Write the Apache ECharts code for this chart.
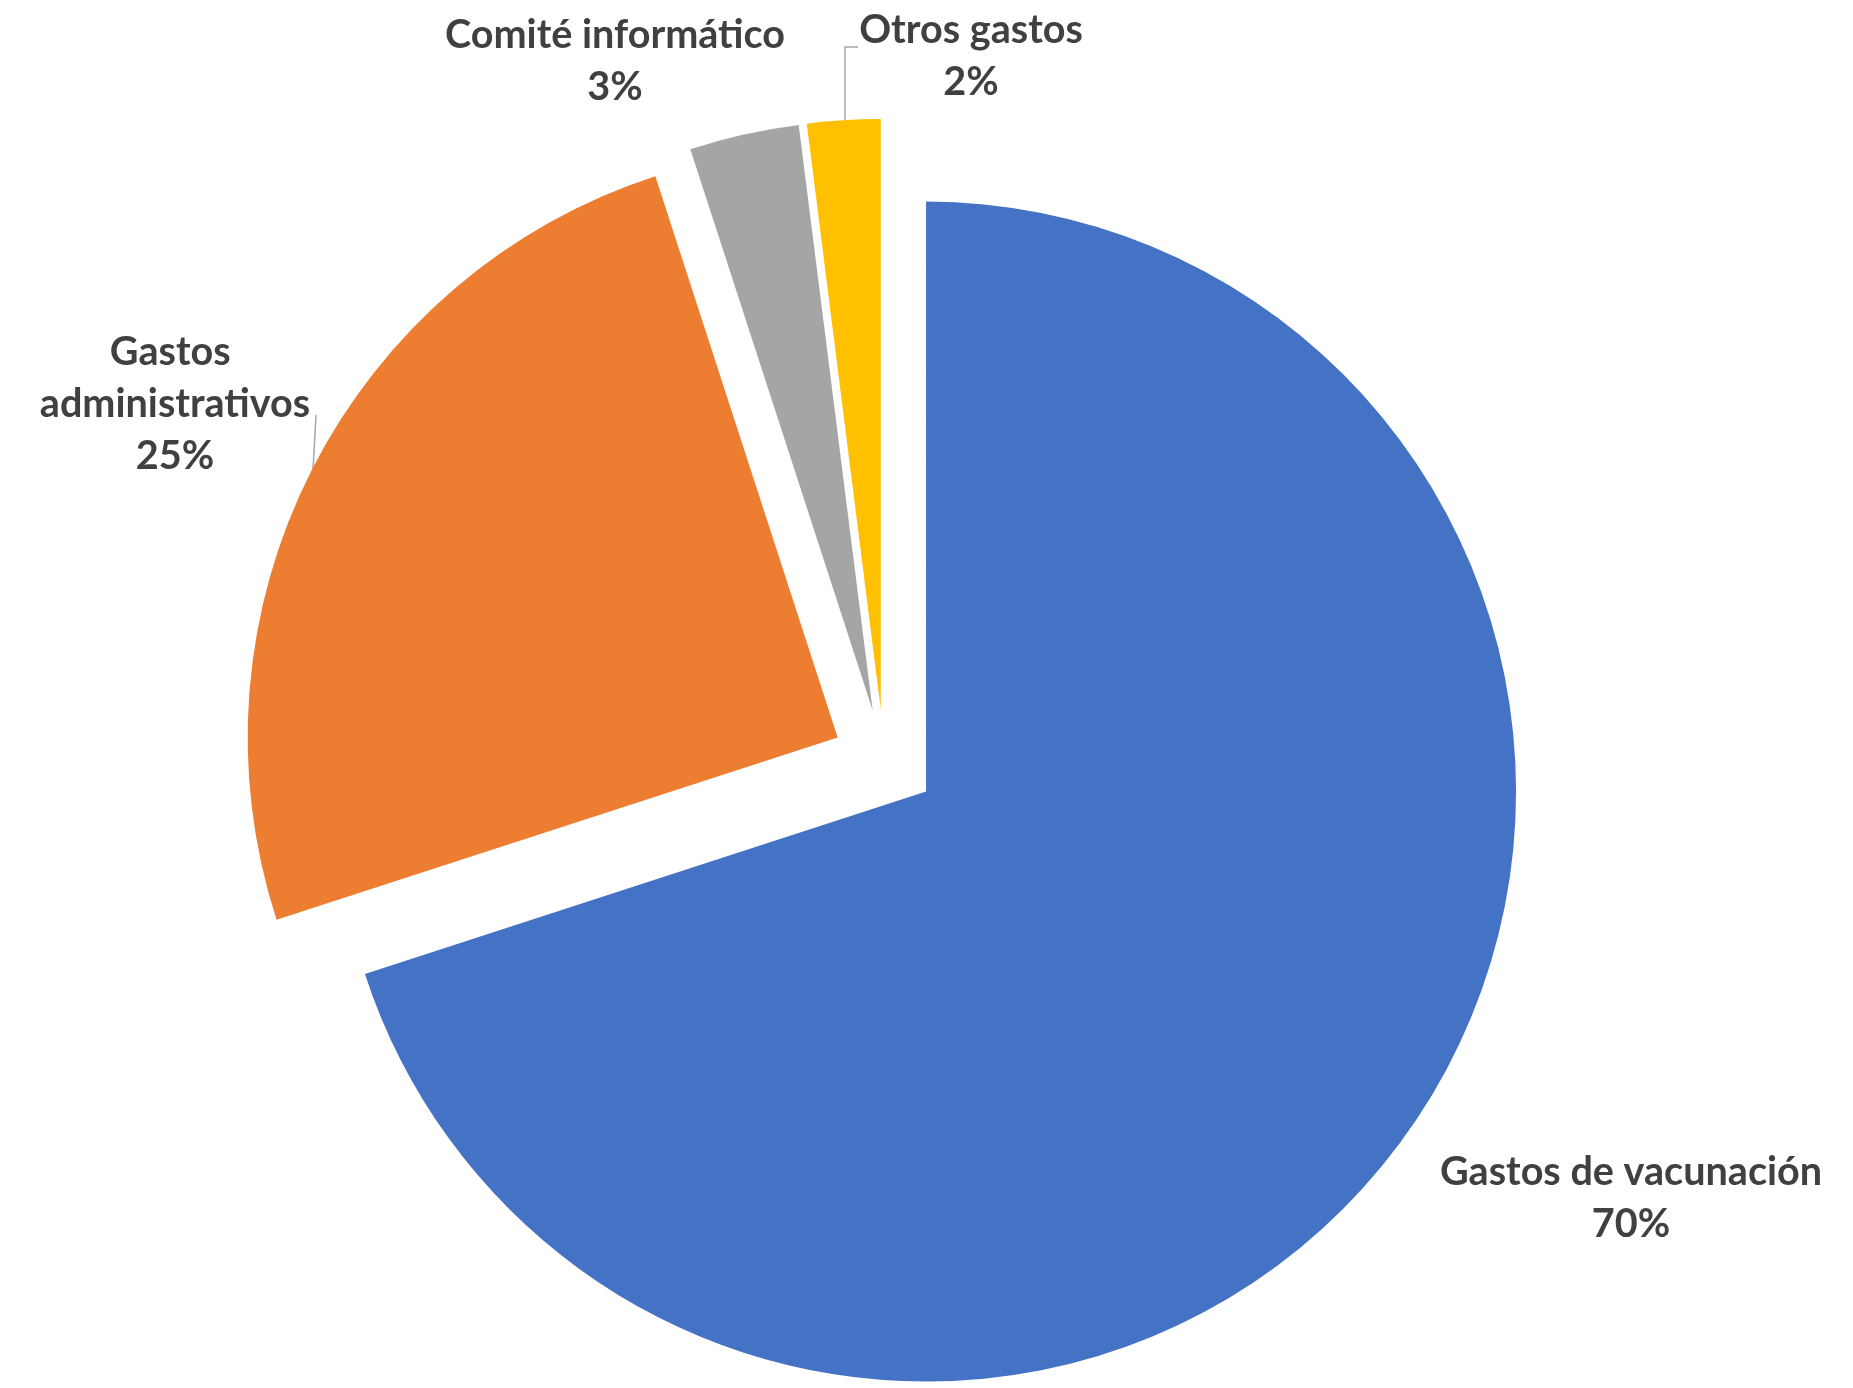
<!DOCTYPE html>
<html>
<head>
<meta charset="utf-8">
<script src="https://cdn.jsdelivr.net/npm/echarts@6/dist/echarts.min.js"></script>
<style>
html,body{margin:0;padding:0;background:#fff;}
#chart{width:1853px;height:1388px;}
</style>
</head>
<body>
<div id="chart"></div>
<script>
// ---- data ----
const categories = ['Gastos de vacunación', 'Gastos administrativos', 'Comité informático', 'Otros gastos'];
const shares = [70, 25, 3, 2];

// ---- styles / layout ----
const colors = ['#4472C4', '#ED7D31', '#A5A5A5', '#FFC000'];
const PIE = { cx: 884, cy: 761, r: 590, explode: 52 };
const LABEL_POS = [
  { x: 1631, y: 1198 },
  { x: 175, y: 404, width: 330 },
  { x: 615, y: 61 },
  { x: 971, y: 56 }
];
const LEADERS = [null, [[316, 415], [313, 470]], null, [[858, 47], [845, 47], [845, 122]]];
const FONT = 'Lato';

// font size so the label width resembles the reference (Calibri Bold)
const cnv = document.createElement('canvas').getContext('2d');
cnv.font = 'bold 100px ' + FONT;
const fontSize = Math.round(100 * 382 / cnv.measureText('Gastos de vacunación').width * 10) / 10;

const total = shares.reduce((a, b) => a + b, 0);
let cum = 0;
const series = shares.map((v, i) => {
  const mid = (cum + v / 2) / total * 2 * Math.PI;
  cum += v;
  const cx = PIE.cx + PIE.explode * Math.sin(mid);
  const cy = PIE.cy - PIE.explode * Math.cos(mid);
  return {
    type: 'pie',
    silent: true,
    animation: false,
    center: [cx, cy],
    radius: PIE.r,
    startAngle: 90,
    clockwise: true,
    avoidLabelOverlap: false,
    emphasis: { disabled: true },
    data: categories.map((name, j) => ({
      name: name,
      value: shares[j],
      itemStyle: { color: j === i ? colors[j] : 'rgba(0,0,0,0)' },
      label: j === i ? {
        show: true,
        width: LABEL_POS[j].width,
        overflow: LABEL_POS[j].width ? 'break' : 'none'
      } : { show: false },
      labelLine: { show: j === i && !!LEADERS[j] }
    })),
    label: {
      position: 'outside',
      formatter: p => p.name + '\n' + Math.round(p.percent) + '%',
      fontFamily: FONT,
      fontWeight: 'bold',
      fontSize: fontSize,
      lineHeight: 52,
      color: '#404040',
      align: 'center'
    },
    labelLine: {
      lineStyle: { color: '#A6A6A6', width: 1.5 }
    },
    labelLayout: params => {
      const k = params.dataIndex;
      const o = {
        x: LABEL_POS[k].x,
        y: LABEL_POS[k].y,
        align: 'center',
        verticalAlign: 'middle'
      };
      if (LEADERS[k]) o.labelLinePoints = LEADERS[k];
      return o;
    }
  };
});

const chart = echarts.init(document.getElementById('chart'), null, { renderer: 'canvas' });
chart.setOption({
  backgroundColor: '#ffffff',
  animation: false,
  tooltip: { show: false },
  series: series
});
</script>
</body>
</html>
